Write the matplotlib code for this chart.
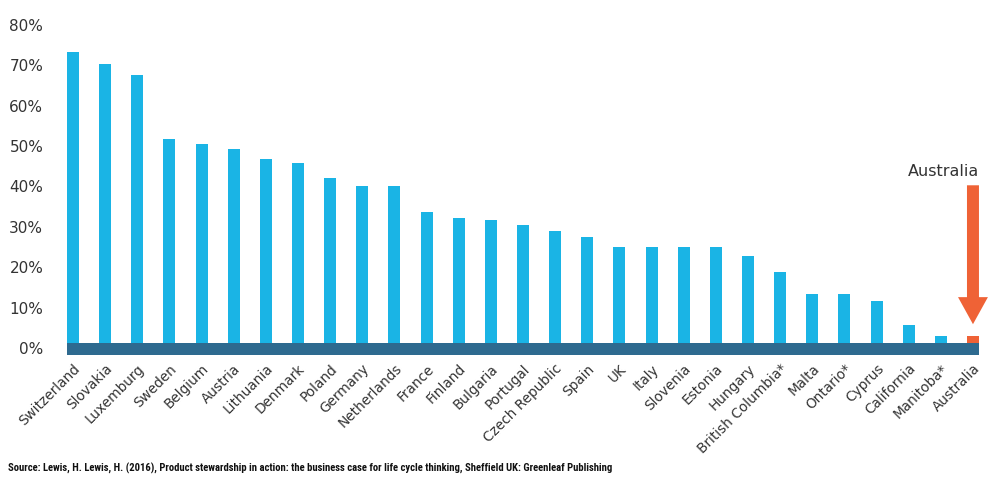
import matplotlib
matplotlib.use("Agg")
import matplotlib.pyplot as plt
from matplotlib.patches import FancyArrow, Rectangle
from matplotlib import font_manager

categories = ["Switzerland", "Slovakia", "Luxemburg", "Sweden", "Belgium", "Austria",
              "Lithuania", "Denmark", "Poland", "Germany", "Netherlands", "France",
              "Finland", "Bulgaria", "Portugal", "Czech Republic", "Spain", "UK",
              "Italy", "Slovenia", "Estonia", "Hungary", "British Columbia*", "Malta",
              "Ontario*", "Cyprus", "California", "Manitoba*", "Australia"]
values = [73.2, 70.4, 67.7, 51.8, 50.6, 49.2, 46.7, 45.7, 42.2, 40.2, 40.2, 33.6,
          32.2, 31.7, 30.4, 29.0, 27.4, 24.9, 24.9, 24.9, 24.9, 22.8, 18.9, 13.5,
          13.5, 11.6, 5.7, 3.0, 3.0]
yticks = [0, 10, 20, 30, 40, 50, 60, 70, 80]
ytick_labels = ["0%", "10%", "20%", "30%", "40%", "50%", "60%", "70%", "80%"]
highlight = "Australia"
source = ("Source: Lewis, H. Lewis, H. (2016), Product stewardship in action: the business "
          "case for life cycle thinking, Sheffield UK: Greenleaf Publishing")

CYAN = "#1AB4E5"
DARK = "#2E6A8F"
ORANGE = "#EF6236"
TXT = "#333333"

W, H = 1004, 479
fig = plt.figure(figsize=(W / 100, H / 100), dpi=100)
fig.patch.set_facecolor("white")

left_px, right_px = 44.7, 1001.9
ax = fig.add_axes([left_px / W, 1 - 356.1 / H, (right_px - left_px) / W, (356.1 - 16.9) / H])
ax.set_xlim(-0.88, 28.9)
ax.set_ylim(-2, 82)
for s in ax.spines.values():
    s.set_visible(False)

bw = 0.373
xs = list(range(len(categories)))
colors = [ORANGE if c == highlight else CYAN for c in categories]
ax.bar(xs, values, width=bw, color=colors, zorder=2)

ax.add_patch(Rectangle((-bw / 2, -1.7), len(categories) - 1 + bw, 2.9,
                       facecolor=DARK, edgecolor="none", zorder=3))

ax.set_yticks(yticks)
ax.set_yticklabels(ytick_labels, fontsize=11, color=TXT, family="DejaVu Sans")
ax.tick_params(axis="y", length=0, pad=1)

ax.set_xticks(xs)
ax.set_xticklabels(categories, rotation=45, ha="right", va="top",
                   rotation_mode="anchor", fontsize=9.8, color=TXT, family="DejaVu Sans")
ax.tick_params(axis="x", length=0, pad=4)

ia = categories.index(highlight)
ax.add_patch(FancyArrow(ia, 40.3, 0, -34.4, width=bw, head_width=0.93,
                        head_length=6.7, length_includes_head=True,
                        facecolor=ORANGE, edgecolor="none", zorder=4))
ax.text(ia + bw / 2, 43.8, highlight, ha="right", va="center", fontsize=11.5,
        color=TXT, family="DejaVu Sans")

available = {f.name for f in font_manager.fontManager.ttflist}
src_font = "DejaVu Sans"
for cand in ["Liberation Sans Narrow", "Roboto Condensed", "Open Sans Condensed",
             "Roboto", "Liberation Sans"]:
    if cand in available:
        src_font = cand
        break
t = fig.text(8 / W, 1 - 468 / H, source, ha="left", va="center", fontsize=8,
             fontweight="bold", color="#111111", family=src_font)
fig.canvas.draw()
bb = t.get_window_extent()
t.set_fontsize(8 * 605 / bb.width)

fig.savefig("out.png", dpi=100, facecolor="white")
